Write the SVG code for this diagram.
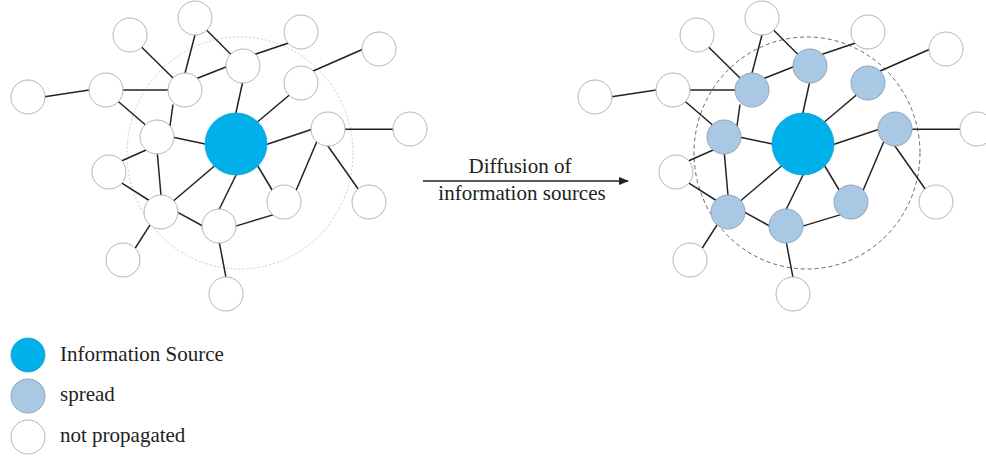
<svg xmlns="http://www.w3.org/2000/svg" width="986" height="456" viewBox="0 0 986 456">
<style>
.e{stroke:#222;stroke-width:1.5;fill:none}
.w{fill:#fff;stroke:#b4b4b4;stroke-width:1}
.s{fill:#a8c8e4;stroke:#8ea6ba;stroke-width:1}
.src{fill:#00b0eb;stroke:#1a9fd0;stroke-width:0.8}
.t{font-family:"Liberation Serif",serif;font-size:21px;fill:#222}
</style>
<defs>
<marker id="ah" markerWidth="10" markerHeight="8" refX="9" refY="4" orient="auto" markerUnits="userSpaceOnUse">
<path d="M0,0 L10,4 L0,8 Z" fill="#222"/>
</marker>
<g id="edges-def">
<line x1="141" y1="46.5" x2="173" y2="78"/>
<line x1="195.5" y1="33" x2="184.5" y2="75"/>
<line x1="206" y1="29.5" x2="231" y2="54.5"/>
<line x1="290" y1="42.5" x2="253" y2="55"/>
<line x1="195.5" y1="79" x2="228.5" y2="66"/>
<line x1="121" y1="90" x2="170" y2="90"/>
<line x1="43" y1="97" x2="91" y2="89.7"/>
<line x1="116.5" y1="100" x2="148.5" y2="127.5"/>
<line x1="173" y1="104.5" x2="169.7" y2="128"/>
<line x1="243" y1="80.5" x2="235" y2="117"/>
<line x1="364.5" y1="48.5" x2="312" y2="71.5"/>
<line x1="290" y1="94.5" x2="255" y2="124"/>
<line x1="172" y1="137" x2="210" y2="145"/>
<line x1="262" y1="146" x2="313.5" y2="128.7"/>
<line x1="344" y1="129.3" x2="395" y2="129.3"/>
<line x1="317.5" y1="140" x2="295.2" y2="192.5"/>
<line x1="327.2" y1="145" x2="361.2" y2="193.3"/>
<line x1="256" y1="163" x2="272.7" y2="191"/>
<line x1="218" y1="163" x2="171" y2="203"/>
<line x1="238" y1="171" x2="218.4" y2="211"/>
<line x1="147.8" y1="149.2" x2="120.2" y2="161.5"/>
<line x1="157.2" y1="152" x2="161.2" y2="197.7"/>
<line x1="120.3" y1="182.2" x2="150" y2="201"/>
<line x1="176" y1="211.4" x2="204.5" y2="227"/>
<line x1="234" y1="226.6" x2="274.6" y2="214.4"/>
<line x1="151" y1="223.3" x2="134" y2="250"/>
<line x1="219" y1="240.7" x2="226.4" y2="279.7"/>
</g>
</defs>

<ellipse cx="240" cy="153" rx="113" ry="116" fill="none" stroke="#c4c4c4" stroke-width="0.9" stroke-dasharray="2 2"/>
<ellipse cx="807" cy="153" rx="113" ry="116" fill="none" stroke="#555" stroke-width="0.9" stroke-dasharray="4 3"/>

<g id="connectors">
<use href="#edges-def" class="e"/>
<use href="#edges-def" class="e" transform="translate(567,0)"/>
<line x1="423" y1="181" x2="628" y2="181" stroke="#222" stroke-width="1.3" marker-end="url(#ah)"/>
</g>

<g id="left-graph">
<g id="L-A"><circle class="w" cx="130" cy="35" r="17"/></g>
<g id="L-B"><circle class="w" cx="195" cy="18" r="17"/></g>
<g id="L-C"><circle class="w" cx="301" cy="32" r="17"/></g>
<g id="L-D"><circle class="w" cx="379" cy="49" r="17"/></g>
<g id="L-E"><circle class="w" cx="28" cy="97" r="17"/></g>
<g id="L-F"><circle class="w" cx="106" cy="90" r="17"/></g>
<g id="L-G"><circle class="w" cx="185" cy="90" r="17"/></g>
<g id="L-H"><circle class="w" cx="243" cy="66" r="17"/></g>
<g id="L-I"><circle class="w" cx="301" cy="83" r="17"/></g>
<g id="L-J"><circle class="w" cx="157" cy="137" r="17"/></g>
<g id="L-K"><circle class="w" cx="328" cy="129" r="17"/></g>
<g id="L-L"><circle class="w" cx="410" cy="129" r="17"/></g>
<g id="L-M"><circle class="w" cx="109" cy="172" r="17"/></g>
<g id="L-N"><circle class="w" cx="161" cy="212" r="17"/></g>
<g id="L-O"><circle class="w" cx="219" cy="226" r="17"/></g>
<g id="L-P"><circle class="w" cx="284" cy="202" r="17"/></g>
<g id="L-Q"><circle class="w" cx="369" cy="202" r="17"/></g>
<g id="L-R"><circle class="w" cx="123" cy="260" r="17"/></g>
<g id="L-S"><circle class="w" cx="226" cy="294" r="17"/></g>
<g id="L-source"><circle class="src" cx="236" cy="144" r="31"/></g>
</g>

<g id="right-graph" transform="translate(567,0)">
<g id="R-A"><circle class="w" cx="130" cy="35" r="17"/></g>
<g id="R-B"><circle class="w" cx="195" cy="18" r="17"/></g>
<g id="R-C"><circle class="w" cx="301" cy="32" r="17"/></g>
<g id="R-D"><circle class="w" cx="379" cy="49" r="17"/></g>
<g id="R-E"><circle class="w" cx="28" cy="97" r="17"/></g>
<g id="R-F"><circle class="w" cx="106" cy="90" r="17"/></g>
<g id="R-G"><circle class="s" cx="185" cy="90" r="17"/></g>
<g id="R-H"><circle class="s" cx="243" cy="66" r="17"/></g>
<g id="R-I"><circle class="s" cx="301" cy="83" r="17"/></g>
<g id="R-J"><circle class="s" cx="157" cy="137" r="17"/></g>
<g id="R-K"><circle class="s" cx="328" cy="129" r="17"/></g>
<g id="R-L"><circle class="w" cx="410" cy="129" r="17"/></g>
<g id="R-M"><circle class="w" cx="109" cy="172" r="17"/></g>
<g id="R-N"><circle class="s" cx="161" cy="212" r="17"/></g>
<g id="R-O"><circle class="s" cx="219" cy="226" r="17"/></g>
<g id="R-P"><circle class="s" cx="284" cy="202" r="17"/></g>
<g id="R-Q"><circle class="w" cx="369" cy="202" r="17"/></g>
<g id="R-R"><circle class="w" cx="123" cy="260" r="17"/></g>
<g id="R-S"><circle class="w" cx="226" cy="294" r="17"/></g>
<g id="R-source"><circle class="src" cx="236" cy="144" r="31"/></g>
</g>

<g id="arrow-label">
<text class="t" x="520" y="173" text-anchor="middle">Diffusion of</text>
<text class="t" x="522" y="200" text-anchor="middle">information sources</text>
</g>

<g id="legend">
<g id="legend-source"><circle class="src" cx="28" cy="355" r="17"/><text class="t" x="60" y="361">Information Source</text></g>
<g id="legend-spread"><circle class="s" cx="28" cy="396" r="17"/><text class="t" x="60" y="401">spread</text></g>
<g id="legend-not"><circle class="w" cx="28" cy="437" r="17"/><text class="t" x="60" y="442">not propagated</text></g>
</g>
</svg>
